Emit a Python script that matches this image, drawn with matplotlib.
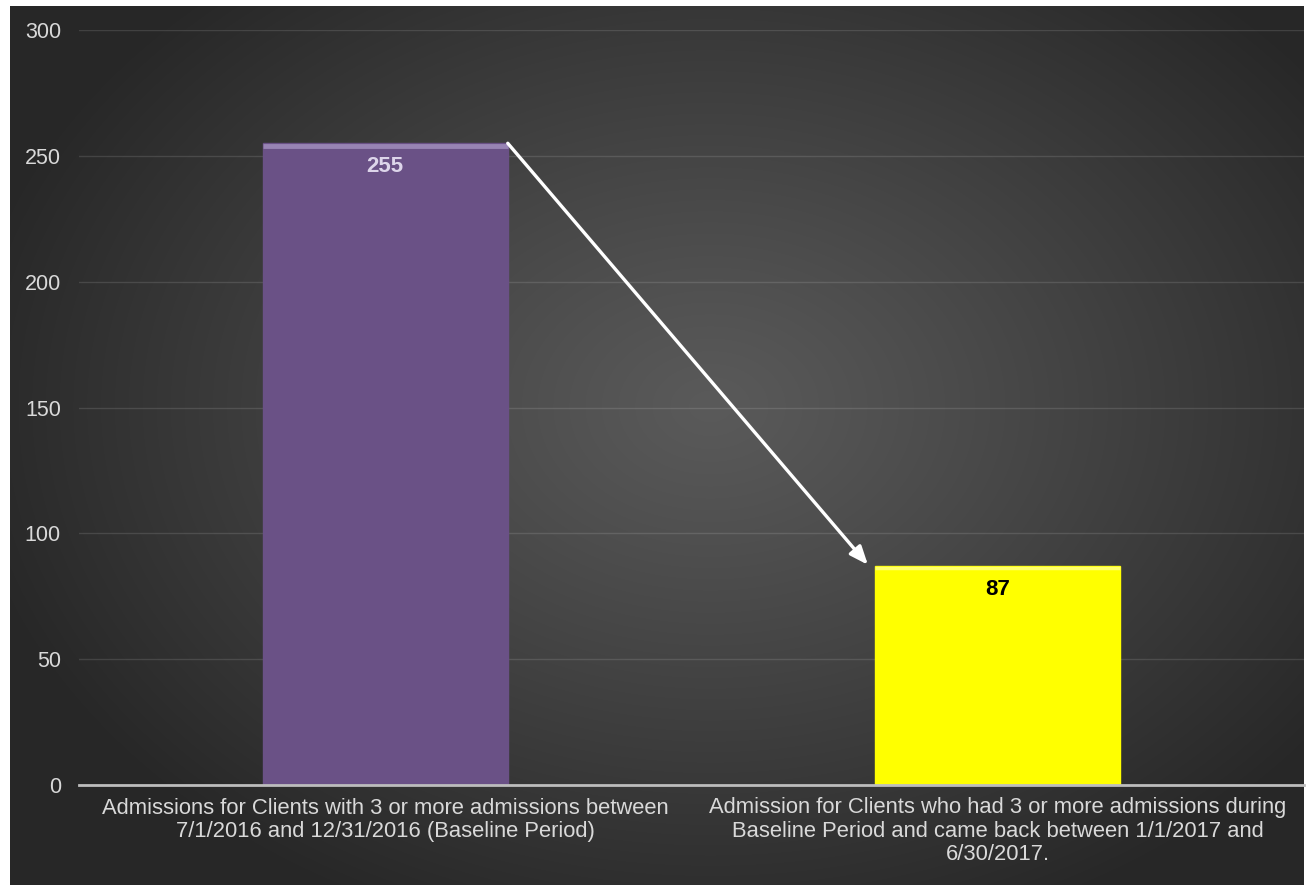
import numpy as np
import matplotlib
matplotlib.use("Agg")
import matplotlib.pyplot as plt

categories = ["Admissions for Clients with 3 or more admissions between\n7/1/2016 and 12/31/2016 (Baseline Period)",
              "Admission for Clients who had 3 or more admissions during\nBaseline Period and came back between 1/1/2017 and\n6/30/2017."]
values = [255, 87]
bar_colors = ["#6a5186", "#ffff00"]
label_colors = ["#ddd5ea", "#000000"]
yticks = [0, 50, 100, 150, 200, 250, 300]

plt.rcParams['font.family'] = ['Liberation Sans', 'DejaVu Sans']

fig = plt.figure(figsize=(13.13, 8.85), dpi=100, facecolor="white")

# dark radial background
bg = fig.add_axes([10/1313, 0, 1294/1313, 879/885])
bg.set_axis_off()
h, w = 879, 1294
yy, xx = np.mgrid[0:h, 0:w]
r = np.sqrt(((xx - 700) / 760.0) ** 2 + ((yy - 400) / 560.0) ** 2)
r = np.clip(r, 0, 1)
shade = (0x5a - (0x5a - 0x27) * r ** 1.1) / 255.0
bg.imshow(np.dstack([shade, shade, shade]), aspect="auto", interpolation="bilinear")

ax = fig.add_axes([79/1313, 100/885, 1225/1313, 755/885])
ax.set_facecolor("none")
x = np.arange(len(values))
bw = 0.4
bars = ax.bar(x, values, width=bw, color=bar_colors, zorder=3)
for b, c in zip(bars, bar_colors):
    b.set_edgecolor(c)
# soft bevel on top edges
ax.hlines(values[0] - 1.0, x[0] - bw/2, x[0] + bw/2, color="#9884b4", lw=3.5, zorder=4)
ax.hlines(values[1] - 0.8, x[1] - bw/2, x[1] + bw/2, color="#ffff70", lw=2.5, zorder=4)

for xi, v, lc in zip(x, values, label_colors):
    ax.text(xi, v - 5, str(v), ha="center", va="top", fontsize=16,
            fontweight="bold", color=lc, zorder=5)

ax.annotate("", xy=(x[1] - bw/2 - 0.012, values[1] + 0.5),
            xytext=(x[0] + bw/2, values[0]),
            arrowprops=dict(arrowstyle="-|>,head_length=1.1,head_width=0.45",
                            color="white", lw=2.4, shrinkA=0, shrinkB=0),
            zorder=6)

ax.set_xlim(-0.5, 1.5)
ax.set_ylim(0, 300)
ax.set_yticks(yticks)
ax.set_xticks(x)
ax.set_xticklabels(categories, fontsize=15.8, color="#d9d9d9", linespacing=1.13)
ax.tick_params(axis="y", length=0, pad=13, labelsize=15.5, labelcolor="#d9d9d9")
ax.tick_params(axis="x", length=0, pad=9)
ax.grid(axis="y", color="white", alpha=0.12, lw=1, zorder=0)
for s in ["top", "right", "left"]:
    ax.spines[s].set_visible(False)
ax.spines["bottom"].set_color("#bdbdbd")
ax.spines["bottom"].set_linewidth(2)
ax.spines["bottom"].set_zorder(4)

fig.savefig("out.png", dpi=100, facecolor="white")
